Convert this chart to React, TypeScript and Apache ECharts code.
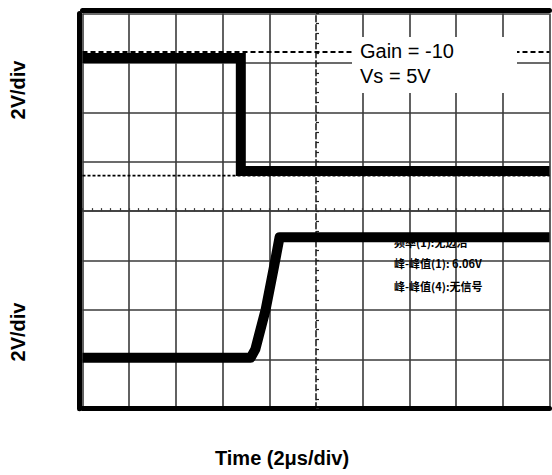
import React, { useEffect, useRef } from "react";
import * as echarts from "echarts";

// Horizontal divisions (2 µs/div) and vertical divisions (2 V/div)
const xDivs = 10;
const yDivs = 8;

// Channel 1 (top trace, inverted output) — time in divisions, level in divisions
const ch1Time = [0, 3.39, 3.39, 10];
const ch1Level = [7.1, 7.1, 4.81, 4.81];

// Channel 2 (bottom trace, input step)
const ch2Time = [0, 3.6, 3.7, 3.92, 4.1, 4.22, 10];
const ch2Level = [1.03, 1.03, 1.2, 2.0, 2.87, 3.47, 3.47];

// Reference level markers (dashed / dotted)
const refHighLevel = 7.22;
const refLowLevel = 4.72;

const yLabels = ["2V/div", "2V/div"];
const xLabel = "Time (2μs/div)";
const noteLines = ["Gain = -10", "Vs = 5V"];
const scopeLines = ["频率(1):无边沿", "峰-峰值(1): 6.06V", "峰-峰值(4):无信号"];

const W = 552;
const H = 475;
const G = { left: 82.5, top: 13.5, right: 2.5, bottom: 66.3 };

export default function App() {
  const ref = useRef<HTMLDivElement>(null);
  useEffect(() => {
    if (!ref.current) return;
    const chart = echarts.init(ref.current, null, { renderer: "svg", width: W, height: H });
    const gw = W - G.left - G.right;
    const gh = H - G.top - G.bottom;
    const gridColor = "#3a3a3a";
    const xSplitColors = Array.from({ length: xDivs + 1 }, (_, i) =>
      i === xDivs / 2 ? "rgba(0,0,0,0)" : gridColor
    );
    const zip = (a: number[], b: number[]) => a.map((v, i) => [v, b[i]]);
    const font = "'Liberation Sans', Arial, sans-serif";
    const scopeTops = [236, 257, 280];

    chart.setOption({
      animation: false,
      backgroundColor: "#ffffff",
      grid: { left: G.left, top: G.top, right: G.right, bottom: G.bottom },
      xAxis: [
        {
          type: "value",
          min: 0,
          max: xDivs,
          interval: 1,
          position: "bottom",
          axisLine: { show: true, onZero: false, lineStyle: { color: "#000", width: 5 } },
          axisTick: { show: false },
          axisLabel: { show: false },
          splitLine: { show: true, lineStyle: { color: xSplitColors, width: 1.6 } },
        },
        {
          type: "value",
          min: 0,
          max: xDivs,
          interval: 1,
          position: "top",
          offset: 3,
          axisLine: { show: true, onZero: false, lineStyle: { color: "#000", width: 5 } },
          axisTick: { show: false },
          axisLabel: { show: false },
          splitLine: { show: false },
        },
        {
          type: "value",
          min: 0,
          max: xDivs,
          interval: 0.2,
          position: "bottom",
          offset: -gh / 2,
          axisLine: { show: true, onZero: false, lineStyle: { color: gridColor, width: 1.6 } },
          axisTick: { show: true, length: 3, inside: true, lineStyle: { color: gridColor, width: 1.2 } },
          axisLabel: { show: false },
          splitLine: { show: false },
        },
      ],
      yAxis: [
        {
          type: "value",
          min: 0,
          max: yDivs,
          interval: 1,
          position: "left",
          offset: 3,
          axisLine: { show: true, onZero: false, lineStyle: { color: "#000", width: 5 } },
          axisTick: { show: false },
          axisLabel: { show: false },
          splitLine: { show: true, lineStyle: { color: gridColor, width: 1.6 } },
        },
        {
          type: "value",
          min: 0,
          max: yDivs,
          interval: 0.2,
          position: "left",
          offset: -gw / 2,
          axisLine: { show: true, onZero: false, lineStyle: { color: "#222", width: 1.6, type: [6, 3] } },
          axisTick: { show: true, length: 3, inside: true, lineStyle: { color: "#222", width: 1.2 } },
          axisLabel: { show: false },
          splitLine: { show: false },
        },
      ],
      series: [
        {
          type: "line",
          xAxisIndex: 0,
          yAxisIndex: 0,
          data: [[0, refHighLevel], [xDivs, refHighLevel]],
          symbol: "none",
          lineStyle: { color: "#000", width: 2, type: [5, 3] },
          z: 3,
        },
        {
          type: "line",
          xAxisIndex: 0,
          yAxisIndex: 0,
          data: [[0, refLowLevel], [xDivs, refLowLevel]],
          symbol: "none",
          lineStyle: { color: "#000", width: 1.8, type: [3, 2] },
          z: 3,
        },
        {
          type: "line",
          xAxisIndex: 0,
          yAxisIndex: 0,
          data: zip(ch1Time, ch1Level),
          symbol: "none",
          lineStyle: { color: "#000", width: 10, join: "miter", cap: "butt" },
          z: 5,
        },
        {
          type: "line",
          xAxisIndex: 0,
          yAxisIndex: 0,
          data: zip(ch2Time, ch2Level),
          symbol: "none",
          lineStyle: { color: "#000", width: 10, join: "round", cap: "butt" },
          z: 5,
        },
      ],
      graphic: [
        {
          type: "rect",
          z: 100,
          shape: { x: 352, y: 37, width: 165, height: 56 },
          style: { fill: "#fff" },
        },
        ...noteLines.map((t, i) => ({
          type: "text",
          z: 101,
          x: 360,
          y: 41 + i * 25,
          style: { text: t, fill: "#000", font: `20px ${font}` },
        })),
        ...scopeLines.map((t, i) => ({
          type: "text",
          z: 1,
          x: 394,
          y: scopeTops[i],
          style: { text: t, fill: "#000", font: `bold 11px 'Noto Sans CJK SC', sans-serif` },
        })),
        ...yLabels.map((t, i) => ({
          type: "text",
          x: 18,
          y: i === 0 ? 90 : 332,
          rotation: Math.PI / 2,
          style: {
            text: t,
            fill: "#000",
            font: `bold 20px ${font}`,
            align: "center",
            verticalAlign: "middle",
          },
        })),
        {
          type: "text",
          x: 282,
          y: 458,
          style: {
            text: xLabel,
            fill: "#000",
            font: `bold 20px ${font}`,
            align: "center",
            verticalAlign: "middle",
          },
        },
      ],
    });
    return () => chart.dispose();
  }, []);
  return (
    <div
      ref={ref}
      style={{ position: "absolute", left: 0, top: 0, width: W, height: H, background: "#fff" }}
    />
  );
}
